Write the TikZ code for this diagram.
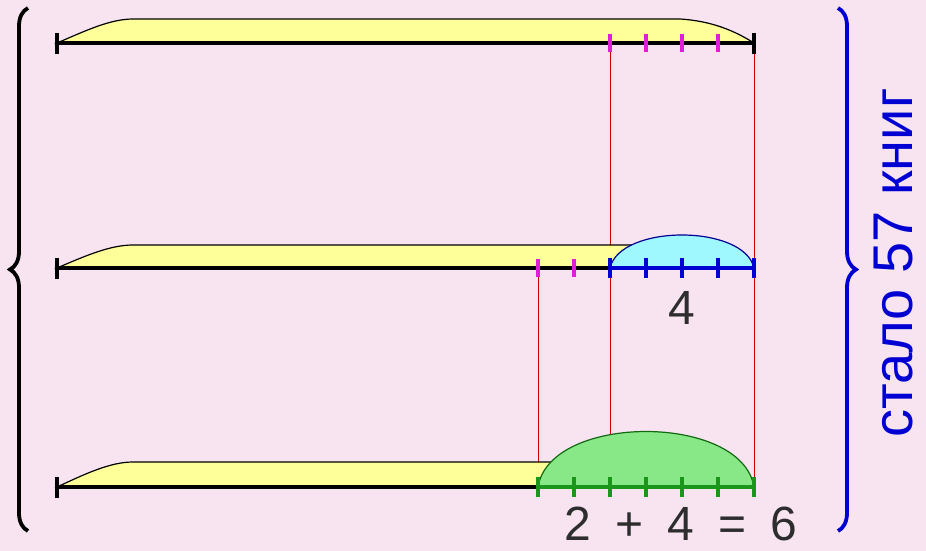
\documentclass[tikz,border=0pt]{standalone}
\usepackage{fontspec}
\setmainfont{Liberation Sans}
\usetikzlibrary{decorations.pathreplacing}

\definecolor{bgpink}{RGB}{248,228,240}
\definecolor{baryellow}{RGB}{255,255,153}
\definecolor{bumpcyan}{RGB}{160,248,255}
\definecolor{bumpgreen}{RGB}{136,232,136}
\definecolor{linegreen}{RGB}{26,150,26}
\definecolor{lineblue}{RGB}{0,0,210}
\definecolor{tickpink}{RGB}{225,30,215}
\definecolor{guidered}{RGB}{205,0,0}
\definecolor{digitgray}{RGB}{45,45,45}

\begin{document}
\begin{tikzpicture}[x=1pt, y=-1pt,
    bar/.style={fill=baryellow, draw=black, line width=1.2pt},
    baseline/.style={line width=4.2pt},
    endtick/.style={line width=3.5pt},
    pinktick/.style={draw=tickpink, line width=3.5pt},
    guide/.style={draw=guidered, line width=0.9pt},
    numlabel/.style={text=digitgray, inner sep=0pt, font=\fontsize{48}{58}\selectfont},
    bracket/.style={decorate, decoration={brace, amplitude=18pt}, line width=3.8pt}
  ]
        % Background
        \useasboundingbox[fill=bgpink] (0,0) rectangle (926,551);

        % Points on the three rows
        \coordinate (s1) at (57,43);   \coordinate (p1) at (610,43);  \coordinate (e1) at (754,43);
        \coordinate (s2) at (57,268);  \coordinate (q2) at (538,268); \coordinate (p2) at (610,268); \coordinate (e2) at (754,268);
        \coordinate (s3) at (57,487);  \coordinate (q3) at (538,487); \coordinate (p3) at (610,487); \coordinate (e3) at (754,487);

        % Red guide lines
        \draw[guide] (p1) -- (p2);
        \draw[guide] (e1) -- (e2);
        \draw[guide] (q2) -- (q3);
        \draw[guide] (p2) -- (p3);
        \draw[guide] (e2) -- (e3);

        % Row 1
        \draw[bar] (s1) .. controls (85,31) and (110,19) .. (133,19) -- (680,19)
            .. controls (712,21) and (735,31) .. (e1) -- cycle;
        \draw[baseline] (s1) -- (e1);
        \draw[pinktick] (610,34) -- (610,52) (646,34) -- (646,52) (682,34) -- (682,52) (718,34) -- (718,52);
        \draw[endtick] (57,33) -- (57,54) (754,33) -- (754,54);

        % Row 2
        \draw[bar] (s2) .. controls (85,256) and (110,245) .. (133,245) -- (640,245) -- (640,268) -- cycle;
        \draw[draw=lineblue!70!black, fill=bumpcyan, line width=1.2pt]
            (p2) .. controls (620,224) and (744,224) .. (e2) -- cycle;
        \draw[baseline] (s2) -- (p2);
        \draw[baseline, lineblue] (p2) -- (e2);
        \draw[pinktick] (538,259) -- (538,277) (574,259) -- (574,277);
        \draw[endtick, lineblue] (610,258) -- (610,278) (646,258) -- (646,278) (682,258) -- (682,278)
            (718,258) -- (718,278) (754,258) -- (754,278);
        \draw[endtick] (57,258) -- (57,279);
        \node[numlabel, anchor=base] (four) at (682,324) {4};

        % Row 3
        \draw[bar] (s3) .. controls (85,474) and (110,462) .. (133,462) -- (570,462) -- (570,487) -- cycle;
        \draw[draw=linegreen!70!black, fill=bumpgreen, line width=1.2pt]
            (q3) .. controls (550,413) and (742,413) .. (e3) -- cycle;
        \draw[baseline] (s3) -- (q3);
        \draw[baseline, linegreen] (q3) -- (e3);
        \draw[endtick, linegreen] (538,477) -- (538,497) (574,477) -- (574,497) (610,477) -- (610,497)
            (646,477) -- (646,497) (682,477) -- (682,497) (718,477) -- (718,497) (754,477) -- (754,497);
        \draw[endtick] (57,477) -- (57,498);
        \node[numlabel, anchor=base] (sum) at (681,540) {2\enspace+\enspace4\enspace=\enspace6};

        % Braces
        \draw[bracket] (28,531) -- (28,8);
        \draw[bracket, lineblue] (838,8) -- (838,531);
        \node[text=lineblue, inner sep=0pt, font=\fontsize{56}{60}\selectfont, rotate=90, anchor=base] (total) at (912,263) {стало 57 книг};
    \end{tikzpicture}
\end{document}
